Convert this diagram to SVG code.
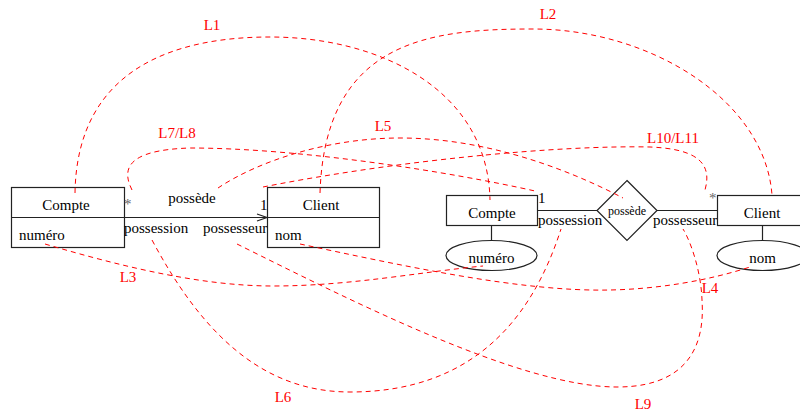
<svg xmlns="http://www.w3.org/2000/svg" width="800" height="412" viewBox="0 0 800 412">
<style>
text{font-family:"Liberation Serif","Times New Roman",serif;font-size:15px;fill:#000}
.box{fill:#fff;stroke:#222;stroke-width:1.2}
.ln{fill:none;stroke:#222;stroke-width:1.2}
.m{text-anchor:middle}
.star{fill:#666}
.red{fill:none;stroke:#f00;stroke-width:1;stroke-dasharray:5,4}
.lbl{fill:#f00;text-anchor:middle}
</style>
<rect width="800" height="412" fill="#fff"/>
<g id="uml-compte">
<rect class="box" x="11.5" y="187.5" width="113" height="60"/>
<line class="ln" x1="11.5" y1="217.5" x2="124.5" y2="217.5"/>
<text class="m" x="66" y="210">Compte</text>
<text x="19" y="240">numéro</text>
</g>
<g id="uml-client">
<rect class="box" x="267.5" y="187.5" width="112" height="60"/>
<line class="ln" x1="267.5" y1="217.5" x2="379.5" y2="217.5"/>
<text class="m" x="321" y="210">Client</text>
<text x="275" y="240">nom</text>
</g>
<g id="uml-assoc">
<line class="ln" x1="124.5" y1="217.5" x2="267.5" y2="217.5"/>
<polyline class="ln" points="257,214 267,217.5 257,221"/>
<text class="m" x="192" y="203">possède</text>
<text class="star" x="124" y="209">*</text>
<text x="260" y="210">1</text>
<text x="124" y="233">possession</text>
<text x="203" y="233">possesseur</text>
</g>
<g id="er-compte">
<rect class="box" x="446.5" y="195.5" width="91" height="30"/>
<text class="m" x="492" y="218">Compte</text>
<line class="ln" x1="491.5" y1="225.5" x2="491.5" y2="240"/>
<ellipse class="box" cx="491.5" cy="255.5" rx="45.5" ry="15"/>
<text class="m" x="491.5" y="263">numéro</text>
</g>
<g id="er-possede">
<line class="ln" x1="537.5" y1="210.5" x2="597" y2="210.5"/>
<line class="ln" x1="657" y1="210.5" x2="717.5" y2="210.5"/>
<polygon class="box" points="627,180.5 657,210.5 627,240.5 597,210.5"/>
<text class="m" x="627" y="215" style="font-size:12px">possède</text>
<text x="538" y="203">1</text>
<text class="star" x="709" y="203">*</text>
<text x="538" y="225">possession</text>
<text x="653" y="225">possesseur</text>
</g>
<g id="er-client">
<rect class="box" x="717.5" y="195.5" width="91" height="30"/>
<text class="m" x="762" y="218">Client</text>
<line class="ln" x1="762.5" y1="225.5" x2="762.5" y2="240"/>
<ellipse class="box" cx="762.5" cy="255.5" rx="45.5" ry="15"/>
<text class="m" x="762.5" y="263">nom</text>
</g>
<g id="links">
<path class="red" d="M75,193 C77,65 180,37 270,37 C380,37 488,90 490,200"/>
<path class="red" d="M320,193 C325,40 430,29 533,29 C650,29 765,100 772,195"/>
<path class="red" d="M45,244 C120,266 200,286 273,286 C350,286 420,272 483,266"/>
<path class="red" d="M300,244 C400,265 520,292 610,290 C660,289 710,280 750,267"/>
<path class="red" d="M218,188 C260,160 330,138 400,138 C480,138 560,165 623,198"/>
<path class="red" d="M152,240 C200,330 260,392 350,392 C480,392 535,310 561,229"/>
<path class="red" d="M132,190 C122,170 125,150 190,148 C300,148 450,172 535,191"/>
<path class="red" d="M237,244 C350,300 520,387 617,387 C700,387 704,330 702,300 C701,270 690,240 683,229"/>
<path class="red" d="M263,187 C400,160 560,145 650,147 C700,149 712,165 705,190"/>
</g>
<g id="link-labels">
<text class="lbl" x="212" y="30">L1</text>
<text class="lbl" x="548" y="19">L2</text>
<text class="lbl" x="128" y="282">L3</text>
<text class="lbl" x="710" y="293">L4</text>
<text class="lbl" x="383" y="131">L5</text>
<text class="lbl" x="283" y="402">L6</text>
<text class="lbl" x="177" y="138">L7/L8</text>
<text class="lbl" x="643" y="409">L9</text>
<text class="lbl" x="673" y="143">L10/L11</text>
</g>
</svg>
